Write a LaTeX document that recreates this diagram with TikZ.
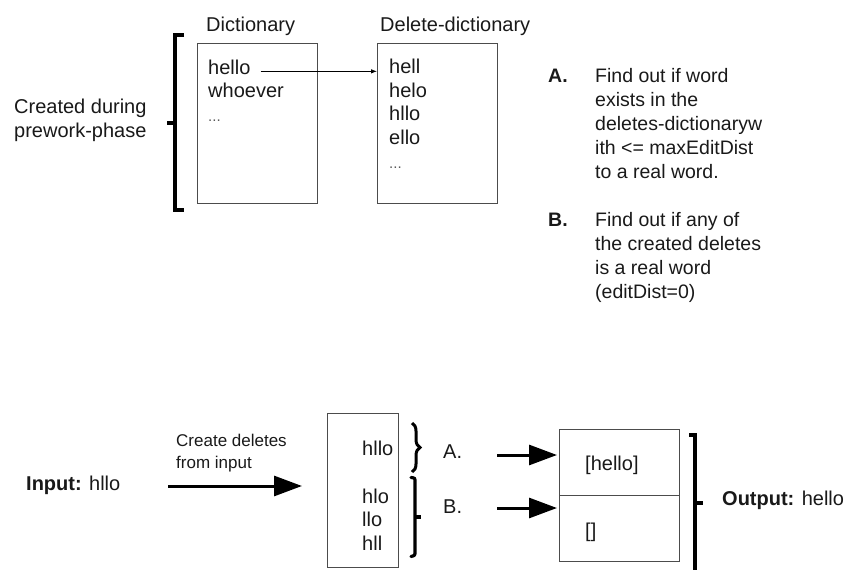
\documentclass[tikz,border=0pt]{standalone}
\usepackage{fontspec}
\setmainfont{Liberation Sans}
\usetikzlibrary{arrows.meta,decorations.pathreplacing}

\newcommand{\moredots}{{\fontsize{15}{18}\selectfont\color{black!65}...}}

\begin{document}
\begin{tikzpicture}[x=1pt,y=-1pt,
  txt/.style={anchor=base west, inner sep=0pt, font=\fontsize{20}{24}\selectfont, text=black!90},
  smalltxt/.style={txt, font=\fontsize{17}{22}\selectfont},
  note/.style={txt, font=\fontsize{19.5}{24}\selectfont},
  listbox/.style={draw=black!70, line width=1pt, inner sep=0pt, anchor=north west},
  bracket/.style={line width=3.5pt, line cap=butt, line join=miter},
  bigarrow/.style={line width=3pt, -{Triangle[length=28pt,width=20pt]}},
]
\useasboundingbox (0,0) rectangle (846,570);

% ---------- prework phase ----------
\node[txt] (hdict) at (206,31.5) {Dictionary};
\node[txt] (hdel)  at (380,31.5) {Delete-dictionary};

\node[listbox, minimum width=120pt, minimum height=160pt] (dict)  at (197,43) {};
\node[listbox, minimum width=120pt, minimum height=160pt] (ddict) at (377,43) {};

\foreach \w [count=\i] in {hello, whoever, \moredots}
  \node[txt] (w\i) at (208, 74+23.5*\i-23.5) {\w};
\foreach \w [count=\i] in {hell, helo, hllo, ello, \moredots}
  \node[txt] (d\i) at (389, 73.5+23.7*\i-23.7) {\w};

\draw[line width=0.8pt, -{Latex[length=6pt,width=4.5pt]}]
  ([xshift=10pt]w1.mid east) -- (w1.mid east -| ddict.west);

% bracket around both dictionaries
\draw[bracket] (184,35) -- (175,35) -- (175,210) -- (184,210);
\draw[bracket] (175,123) -- (167,123);
\node[txt] (pre1) at (14,113) {Created during};
\node[txt] (pre2) at (14,137) {prework-phase};

% ---------- notes A and B ----------
\node[note, font=\fontsize{19.5}{24}\selectfont\bfseries] (la) at (548,82.5) {A.};
\foreach \t [count=\i] in {Find out if word, exists in the, deletes-dictionaryw, ith <= maxEditDist, to a real word.}
  \node[note] (na\i) at (595, 82.5+24*\i-24) {\t};

\node[note, font=\fontsize{19.5}{24}\selectfont\bfseries] (lb) at (548,226) {B.};
\foreach \t [count=\i] in {Find out if any of, the created deletes, is a real word, (editDist=0)}
  \node[note] (nb\i) at (595, 226+24*\i-24) {\t};

% ---------- lookup phase ----------
\node[txt] (inp) at (26,490) {\textbf{Input:} hllo};
\node[smalltxt] (c1) at (176,446) {Create deletes};
\node[smalltxt] (c2) at (176,468) {from input};
\coordinate (ia) at (168,486);
\node[listbox, minimum width=71pt, minimum height=154pt] (mid) at (327,413) {};
\draw[bigarrow] (ia) -- ([xshift=-25pt]ia -| mid.west);

\node[txt] (m1) at (362,455) {hllo};
\foreach \w [count=\i] in {hlo, llo, hll}
  \node[txt] (m\i b) at (362, 503+23.6*\i-23.6) {\w};

\draw[line width=3pt, decorate, decoration={brace, amplitude=8pt}] (412,423) -- (412,472);
\draw[line width=3.2pt, line cap=round] (411,477.5) .. controls (415,478) .. (415,482) -- (415,551)
  .. controls (415,555.5) .. (411,556.5);
\draw[line width=3.2pt] (415,517) -- (421,517);

\node[txt] (qa) at (443,458.5) {A.};
\node[txt] (qb) at (443,513.5) {B.};

\node[listbox, minimum width=120pt, minimum height=66pt] (outA) at (559,429) {};
\node[listbox, minimum width=120pt, minimum height=66pt] (outB) at (559,495) {};
\node[txt] (ra) at (585,470) {[hello]};
\node[txt] (rb) at (585,537) {[]};

\coordinate (pa) at (497,455);
\coordinate (pb) at (497,508);
\draw[bigarrow] (pa) -- ([xshift=-2pt]pa -| outA.west);
\draw[bigarrow] (pb) -- ([xshift=-2pt]pb -| outB.west);

\draw[bracket] (689,435) -- (695,435) -- (695,576) -- (689,576);
\draw[bracket] (695,503) -- (703,503);
\node[txt] (outp) at (722,505) {\textbf{Output:} hello};
\end{tikzpicture}
\end{document}
